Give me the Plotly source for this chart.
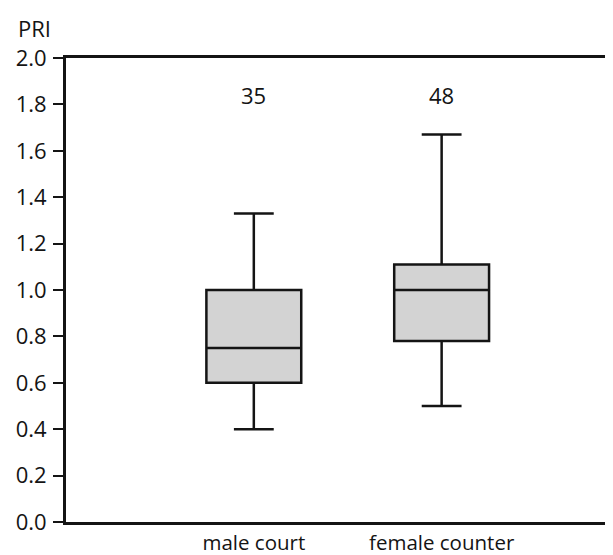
import plotly.graph_objects as go

categories = ["male court", "female counter"]
lower_whisker = [0.40, 0.50]
q1_values = [0.60, 0.78]
medians = [0.75, 1.00]
q3_values = [1.00, 1.11]
upper_whisker = [1.33, 1.67]
sample_sizes = ["35", "48"]
y_ticks = [0.0, 0.2, 0.4, 0.6, 0.8, 1.0, 1.2, 1.4, 1.6, 1.8, 2.0]

FONT = "Open Sans"
INK = "#141414"
FS = 22

fig = go.Figure()
fig.add_trace(go.Box(
    x=categories,
    lowerfence=lower_whisker,
    q1=q1_values,
    median=medians,
    q3=q3_values,
    upperfence=upper_whisker,
    boxpoints=False,
    width=0.505,
    whiskerwidth=0.42,
    fillcolor="#d3d3d3",
    line=dict(color=INK, width=2.5),
    hoverinfo="skip",
    showlegend=False,
))

for cat, n in zip(categories, sample_sizes):
    fig.add_annotation(x=cat, y=1.84, text=n, showarrow=False,
                       font=dict(family=FONT, size=FS, color=INK))

fig.add_annotation(x=0, y=1, xref="paper", yref="paper", xshift=-50, yshift=30,
                   text="PRI", showarrow=False, xanchor="left", yanchor="middle",
                   font=dict(family=FONT, size=FS, color=INK))

fig.update_layout(
    width=613, height=555,
    margin=dict(l=58, r=0, t=50, b=41, autoexpand=False),
    paper_bgcolor="white", plot_bgcolor="white",
    font=dict(family=FONT, size=FS, color=INK),
)
fig.update_xaxes(
    type="category", range=[-1.0, 1.955], automargin=False,
    showline=True, linecolor=INK, linewidth=3, mirror=True,
    showgrid=False, zeroline=False, ticks="", ticklabelstandoff=0,
    tickfont=dict(family=FONT, size=20.5, color=INK),
)
fig.update_yaxes(
    range=[0, 2.0], tickvals=y_ticks, ticktext=[f"{v:.1f}" for v in y_ticks],
    automargin=False,
    showline=True, linecolor=INK, linewidth=3, mirror=False,
    showgrid=False, zeroline=False, ticks="outside", ticklen=10, tickwidth=2,
    tickcolor=INK, ticklabelstandoff=2,
    tickfont=dict(family=FONT, size=FS, color=INK),
)

fig.write_html("out.html")
